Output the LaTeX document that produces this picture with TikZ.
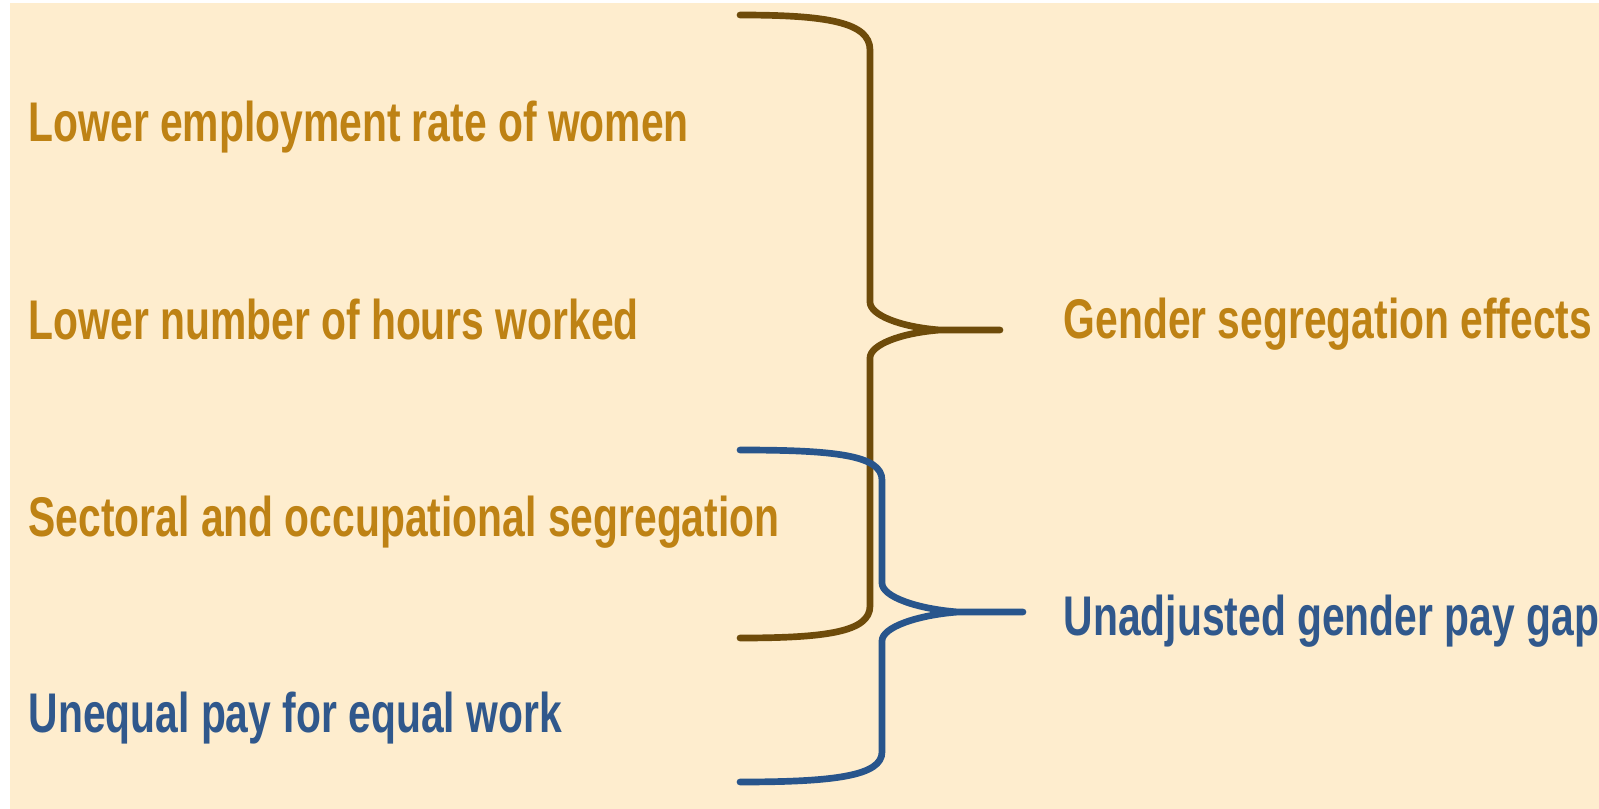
\documentclass[tikz,border=0pt]{standalone}
\usepackage{fontspec}
\setmainfont{Liberation Sans}[FakeStretch=0.73]
\usepackage{tikz}
\usepackage{xcolor}

\definecolor{cream}{RGB}{254,237,206}
\definecolor{gold}{RGB}{190,130,20}
\definecolor{darkgold}{RGB}{110,75,10}
\definecolor{bluetext}{RGB}{48,88,140}
\definecolor{bluebrace}{RGB}{40,85,140}

\tikzset{
  factor/.style={anchor=base west, inner sep=0pt, font=\bfseries\fontsize{15.9}{19}\selectfont},
  brace/.style={line width=1.9pt, line join=round, line cap=round}
}

\begin{document}
\begin{tikzpicture}[x=0.01cm, y=-0.01cm]

  % Page and background
  \useasboundingbox (0,0) rectangle (1599,809);
  \fill[white] (0,0) rectangle (1599,809);
  \fill[cream] (10,3) rectangle (1599,809);

  % Left column of causes
  \node[factor, text=gold] (employ) at (28,141) {Lower employment rate of women};
  \node[factor, text=gold] (hours) at (28,339) {Lower number of hours worked};
  \node[factor, text=gold] (sector) at (28,536) {Sectoral and occupational segregation};
  \node[factor, text=bluetext] (unequal) at (28,732) {Unequal pay for equal work};

  % Brace tips
  \coordinate (tipseg) at (1000,330);
  \coordinate (tippay) at (1023,612);

  % Brace over the first three causes
  \draw[brace, darkgold] (740,15) .. controls (826,15) and (870,22) .. (870,50)
    -- (870,302) .. controls (870,315) and (900,327) .. (940,330) -- (tipseg)
    -- (940,330) .. controls (900,333) and (870,345) .. (870,358)
    -- (870,606) .. controls (870,632) and (826,638) .. (740,638);

  % Brace over all four causes
  \draw[brace, bluebrace] (740,450) .. controls (834,450) and (882,455) .. (882,480)
    -- (882,583) .. controls (882,597) and (918,609) .. (958,612) -- (tippay)
    -- (958,612) .. controls (918,615) and (882,627) .. (882,641)
    -- (882,752) .. controls (882,776) and (834,782) .. (740,782);

  % Right column of results
  \node[factor, text=gold] (segeff) at (1063,338) {Gender segregation effects};
  \node[factor, text=bluetext] (paygap) at (1063,635) {Unadjusted gender pay gap};

\end{tikzpicture}
\end{document}
